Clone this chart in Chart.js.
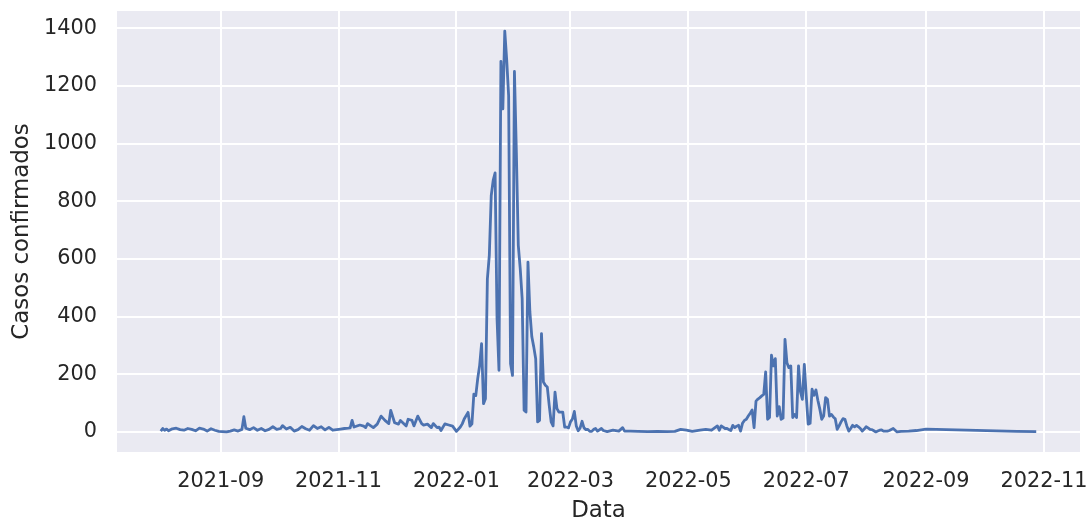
<!DOCTYPE html>
<html>
<head>
<meta charset="utf-8">
<script src="https://cdn.jsdelivr.net/npm/chart.js@4.4.1/dist/chart.umd.min.js"></script>
<style>
  html, body { margin: 0; padding: 0; background: #ffffff; }
  #wrap { width: 1091px; height: 520px; }
</style>
</head>
<body>
<div id="wrap"><canvas id="c" width="1091" height="520"></canvas></div>
<script>
// ---- data ----
const dates = [
  '2021-08-01','2021-08-02','2021-08-03','2021-08-04','2021-08-05','2021-08-07','2021-08-09','2021-08-11','2021-08-13','2021-08-15',
  '2021-08-17','2021-08-19','2021-08-21','2021-08-23','2021-08-25','2021-08-27','2021-08-29','2021-08-31','2021-09-02','2021-09-04',
  '2021-09-06','2021-09-08','2021-09-10','2021-09-12','2021-09-13','2021-09-14','2021-09-16','2021-09-18','2021-09-20','2021-09-22',
  '2021-09-24','2021-09-26','2021-09-28','2021-09-30','2021-10-02','2021-10-03','2021-10-05','2021-10-07','2021-10-09','2021-10-11',
  '2021-10-13','2021-10-15','2021-10-17','2021-10-19','2021-10-21','2021-10-23','2021-10-25','2021-10-27','2021-10-29','2021-10-31',
  '2021-11-02','2021-11-04','2021-11-06','2021-11-07','2021-11-08','2021-11-09','2021-11-12','2021-11-14','2021-11-15','2021-11-16',
  '2021-11-19','2021-11-21','2021-11-23','2021-11-25','2021-11-27','2021-11-28','2021-11-30','2021-12-02','2021-12-03','2021-12-06',
  '2021-12-07','2021-12-09','2021-12-10','2021-12-12','2021-12-14','2021-12-15','2021-12-17','2021-12-19','2021-12-20','2021-12-22',
  '2021-12-23','2021-12-24','2021-12-26','2021-12-28','2021-12-30','2022-01-01','2022-01-03','2022-01-04','2022-01-05','2022-01-07',
  '2022-01-08','2022-01-09','2022-01-10','2022-01-11','2022-01-12','2022-01-13','2022-01-14','2022-01-15','2022-01-16','2022-01-17',
  '2022-01-18','2022-01-19','2022-01-20','2022-01-21','2022-01-22','2022-01-23','2022-01-24','2022-01-25','2022-01-26','2022-01-27',
  '2022-01-28','2022-01-29','2022-01-30','2022-01-31','2022-02-01','2022-02-02','2022-02-03','2022-02-04','2022-02-05','2022-02-06',
  '2022-02-07','2022-02-08','2022-02-09','2022-02-10','2022-02-11','2022-02-12','2022-02-13','2022-02-14','2022-02-15','2022-02-16',
  '2022-02-17','2022-02-18','2022-02-19','2022-02-20','2022-02-21','2022-02-22','2022-02-23','2022-02-24','2022-02-25','2022-02-26',
  '2022-02-27','2022-02-28','2022-03-01','2022-03-02','2022-03-03','2022-03-04','2022-03-05','2022-03-06','2022-03-07','2022-03-08',
  '2022-03-09','2022-03-10','2022-03-11','2022-03-12','2022-03-13','2022-03-14','2022-03-15','2022-03-17','2022-03-18','2022-03-20',
  '2022-03-23','2022-03-26','2022-03-28','2022-03-29','2022-04-01','2022-04-05','2022-04-10','2022-04-15','2022-04-20','2022-04-24',
  '2022-04-27','2022-04-30','2022-05-03','2022-05-07','2022-05-10','2022-05-13','2022-05-16','2022-05-17','2022-05-18','2022-05-20',
  '2022-05-21','2022-05-22','2022-05-23','2022-05-24','2022-05-25','2022-05-26','2022-05-27','2022-05-28','2022-05-29','2022-05-30',
  '2022-05-31','2022-06-01','2022-06-02','2022-06-03','2022-06-04','2022-06-05','2022-06-06','2022-06-07','2022-06-08','2022-06-09',
  '2022-06-10','2022-06-11','2022-06-12','2022-06-13','2022-06-14','2022-06-15','2022-06-16','2022-06-17','2022-06-18','2022-06-19',
  '2022-06-20','2022-06-21','2022-06-22','2022-06-23','2022-06-24','2022-06-25','2022-06-26','2022-06-27','2022-06-28','2022-06-29',
  '2022-06-30','2022-07-01','2022-07-02','2022-07-03','2022-07-04','2022-07-05','2022-07-06','2022-07-07','2022-07-08','2022-07-09',
  '2022-07-10','2022-07-11','2022-07-12','2022-07-13','2022-07-14','2022-07-15','2022-07-16','2022-07-17','2022-07-18','2022-07-19',
  '2022-07-20','2022-07-21','2022-07-22','2022-07-23','2022-07-24','2022-07-25','2022-07-26','2022-07-27','2022-07-28','2022-07-29',
  '2022-07-30','2022-07-31','2022-08-01','2022-08-02','2022-08-03','2022-08-04','2022-08-05','2022-08-06','2022-08-07','2022-08-08',
  '2022-08-09','2022-08-10','2022-08-12','2022-08-13','2022-08-15','2022-08-16','2022-08-17','2022-08-19','2022-08-23','2022-08-27',
  '2022-09-01','2022-10-18','2022-10-28'
];
const casos = [
  3,12,6,10,4,11,13,8,6,12,
  9,4,13,10,3,11,6,2,1,0,
  3,7,3,9,53,13,8,15,6,12,
  4,9,18,9,12,22,10,16,3,8,
  19,11,6,22,12,18,7,16,6,8,
  10,12,13,14,40,17,24,20,15,29,
  15,27,55,40,29,75,32,27,40,21,
  44,40,21,55,29,24,27,15,29,15,
  17,5,28,24,20,2,17,28,45,68,
  20,28,131,126,185,231,306,98,115,531,
  612,820,872,898,393,214,1285,1120,1390,1290,
  1166,236,196,1250,970,647,566,462,75,69,
  589,416,330,295,254,35,40,341,173,162,
  156,92,35,21,138,81,69,69,69,17,
  17,14,35,45,71,21,4,14,37,14,
  8,9,2,2,9,12,3,12,5,1,
  6,3,15,3,3,2,1,2,1,2,
  9,6,2,6,9,6,21,6,21,12,
  12,8,5,23,15,20,23,3,30,40,
  44,55,65,76,15,107,114,119,125,130,
  208,44,50,266,229,254,55,88,44,48,
  321,240,223,229,50,61,50,229,140,113,
  234,125,27,30,148,127,146,110,80,44,
  55,119,113,55,61,52,46,9,21,35,
  46,44,21,3,12,23,18,23,18,12,
  3,10,18,14,9,8,4,0,3,6,
  7,3,3,5,12,6,0,2,3,5,
  10,2,1
];
const xTickLabels = ['2021-09','2021-11','2022-01','2022-03','2022-05','2022-07','2022-09','2022-11'];
const yTickValues = [0, 200, 400, 600, 800, 1000, 1200, 1400];

// ---- helpers ----
const DAY = 86400000;
const toDay = s => {
  const p = s.split('-').map(Number);
  return Date.UTC(p[0], p[1] - 1, p[2] || 1) / DAY;
};
const points = dates.map((d, i) => ({ x: toDay(d), y: casos[i] }));
const xTickDays = xTickLabels.map(toDay);

const xs = points.map(p => p.x), ys = points.map(p => p.y);
const xMinD = Math.min(...xs), xMaxD = Math.max(...xs);
const yMinD = Math.min(...ys), yMaxD = Math.max(...ys);
const xm = (xMaxD - xMinD) * 0.05, ym = (yMaxD - yMinD) * 0.05;

const FONT = "'DejaVu Sans', sans-serif";
const TEXT = '#262626';

const bgPlugin = {
  id: 'bg',
  beforeDraw(chart) {
    const { ctx, chartArea: a } = chart;
    ctx.save();
    ctx.fillStyle = '#ffffff';
    ctx.fillRect(0, 0, chart.width, chart.height);
    ctx.fillStyle = '#EAEAF2';
    ctx.fillRect(a.left, a.top, a.right - a.left, a.bottom - a.top);
    ctx.restore();
  }
};

new Chart(document.getElementById('c'), {
  type: 'line',
  data: {
    datasets: [{
      data: points,
      borderColor: '#4C72B0',
      backgroundColor: '#4C72B0',
      borderWidth: 2.8,
      pointRadius: 0,
      pointHoverRadius: 0,
      tension: 0,
      fill: false,
      borderJoinStyle: 'round',
      borderCapStyle: 'butt'
    }]
  },
  options: {
    responsive: false,
    devicePixelRatio: 1,
    animation: false,
    events: [],
    layout: { padding: { left: 0, top: 11, right: 11, bottom: 0 } },
    plugins: { legend: { display: false }, tooltip: { enabled: false } },
    scales: {
      x: {
        type: 'linear',
        min: xMinD - xm,
        max: xMaxD + xm,
        afterFit(scale) {
          scale.height = 68;
          scale.paddingLeft = 0; scale.paddingRight = 0;
          scale.paddingTop = 0; scale.paddingBottom = 0;
        },
        afterBuildTicks(scale) { scale.ticks = xTickDays.map(v => ({ value: v })); },
        grid: { color: '#ffffff', lineWidth: 2, drawTicks: false },
        border: { display: false },
        ticks: {
          autoSkip: false,
          maxRotation: 0,
          padding: 17,
          color: TEXT,
          font: { family: FONT, size: 20.8 },
          callback: (v) => {
            const i = xTickDays.indexOf(v);
            return i >= 0 ? xTickLabels[i] : '';
          }
        },
        title: {
          display: true,
          text: 'Data',
          color: TEXT,
          font: { family: FONT, size: 22.9 },
          padding: { top: 0, bottom: -5 }
        }
      },
      y: {
        type: 'linear',
        min: yMinD - ym,
        max: yMaxD + ym,
        afterFit(scale) {
          scale.width = 117;
          scale.paddingLeft = 0; scale.paddingRight = 0;
          scale.paddingTop = 0; scale.paddingBottom = 0;
        },
        afterBuildTicks(scale) { scale.ticks = yTickValues.map(v => ({ value: v })); },
        grid: { color: '#ffffff', lineWidth: 2, drawTicks: false },
        border: { display: false },
        ticks: {
          padding: 20,
          color: TEXT,
          font: { family: FONT, size: 20.8 },
          callback: v => String(v)
        },
        title: {
          display: true,
          text: 'Casos confirmados',
          color: TEXT,
          font: { family: FONT, size: 22.9 },
          padding: { top: 8, bottom: 0 }
        }
      }
    }
  },
  plugins: [bgPlugin]
});
</script>
</body>
</html>
